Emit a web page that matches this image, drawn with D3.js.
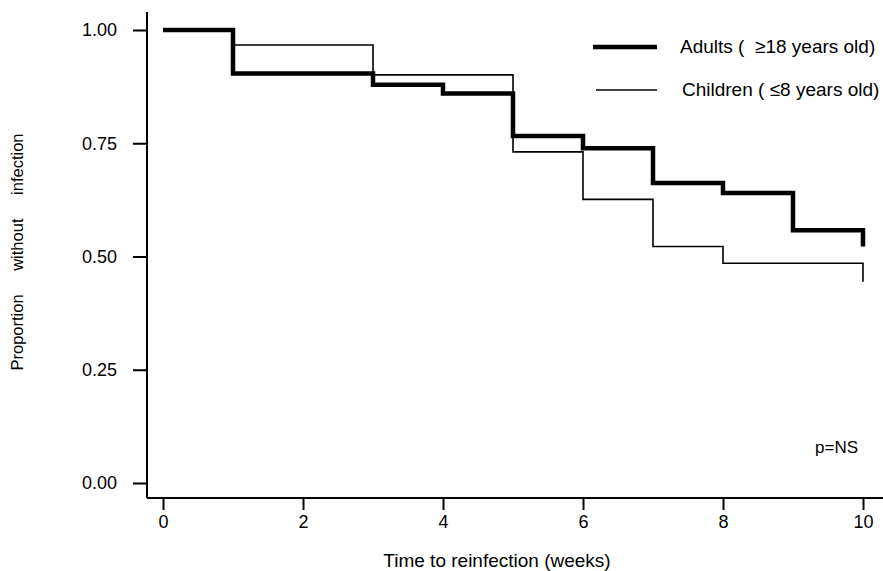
<!DOCTYPE html>
<html>
<head>
<meta charset="utf-8">
<script src="https://cdn.jsdelivr.net/npm/d3@7"></script>
<style>
  body { margin: 0; background: #fff; }
  text { font-family: "Liberation Sans", Arial, sans-serif; fill: #000; }
</style>
</head>
<body>
<div id="chart"></div>
<script>
// Kaplan-Meier step data
const weeks = [0, 1, 2, 3, 4, 5, 6, 7, 8, 9, 10];
const adults = [1.00, 0.904, 0.904, 0.879, 0.860, 0.766, 0.739, 0.662, 0.640, 0.558, 0.522];
const children = [1.00, 0.967, 0.967, 0.901, 0.901, 0.731, 0.626, 0.522, 0.485, 0.485, 0.444];
const yTicks = [0, 0.25, 0.5, 0.75, 1];
const xTicks = [0, 2, 4, 6, 8, 10];

const width = 883, height = 571;
const margin = { top: 12, right: 0, bottom: 73, left: 147 };

const svg = d3.select("#chart")
  .append("svg")
    .attr("width", width)
    .attr("height", height);

// x: 0 -> 163, 10 -> 863 ; y: 1 -> 30, 0 -> 483
const x = d3.scaleLinear().domain([0, 10]).range([163, 863]);
const y = d3.scaleLinear().domain([0, 1]).range([483, 30]);

// axes
const xAxis = svg.append("g")
  .attr("transform", `translate(0, 498)`)
  .call(d3.axisBottom(x).tickValues(xTicks).tickSize(12).tickSizeOuter(0).tickPadding(5));
xAxis.select(".domain").attr("d", `M${margin.left},0H${width}`);

const yAxis = svg.append("g")
  .attr("transform", `translate(${margin.left}, 0)`)
  .call(d3.axisLeft(y).tickValues(yTicks).tickFormat(d3.format(".2f")).tickSize(14).tickSizeOuter(0).tickPadding(16));
yAxis.select(".domain").attr("d", `M0,${margin.top}V498`);

svg.selectAll(".domain").attr("stroke", "#000").attr("stroke-width", 2);
svg.selectAll(".tick line").attr("stroke", "#000").attr("stroke-width", 2);
svg.selectAll(".tick text").style("font-size", "18px").style("font-family", "'Liberation Sans', Arial, sans-serif");

// step curves
function stepPoints(vals) {
  return weeks.map((w, i) => [w, vals[i]]);
}
const line = d3.line()
  .x(d => x(d[0]))
  .y(d => y(d[1]))
  .curve(d3.curveStepAfter);

svg.append("path")
  .datum(stepPoints(children))
  .attr("d", line)
  .attr("fill", "none")
  .attr("stroke", "#000")
  .attr("stroke-width", 1.6);

svg.append("path")
  .datum(stepPoints(adults))
  .attr("d", line)
  .attr("fill", "none")
  .attr("stroke", "#000")
  .attr("stroke-width", 4.5);

// legend
const legend = svg.append("g");
legend.append("line")
  .attr("x1", 593).attr("x2", 657).attr("y1", 47).attr("y2", 47)
  .attr("stroke", "#000").attr("stroke-width", 4.5);
legend.append("text")
  .attr("x", 680).attr("y", 53)
  .style("font-size", "19px")
  .text("Adults (  \u226518 years old)")
  .attr("xml:space", "preserve");
legend.append("line")
  .attr("x1", 596).attr("x2", 657).attr("y1", 90).attr("y2", 90)
  .attr("stroke", "#000").attr("stroke-width", 1.6);
legend.append("text")
  .attr("x", 682).attr("y", 96)
  .style("font-size", "19px")
  .text("Children ( \u22648 years old)")
  .attr("xml:space", "preserve");

svg.append("text")
  .attr("x", 815).attr("y", 453)
  .style("font-size", "17px")
  .text("p=NS");

// axis titles
svg.append("text")
  .attr("x", 497).attr("y", 567)
  .attr("text-anchor", "middle")
  .style("font-size", "19px")
  .text("Time to reinfection (weeks)");

svg.append("text")
  .attr("transform", "translate(23, 252) rotate(-90)")
  .attr("text-anchor", "middle")
  .style("font-size", "16.5px")
  .style("word-spacing", "19px")
  .text("Proportion without infection");
</script>
</body>
</html>
